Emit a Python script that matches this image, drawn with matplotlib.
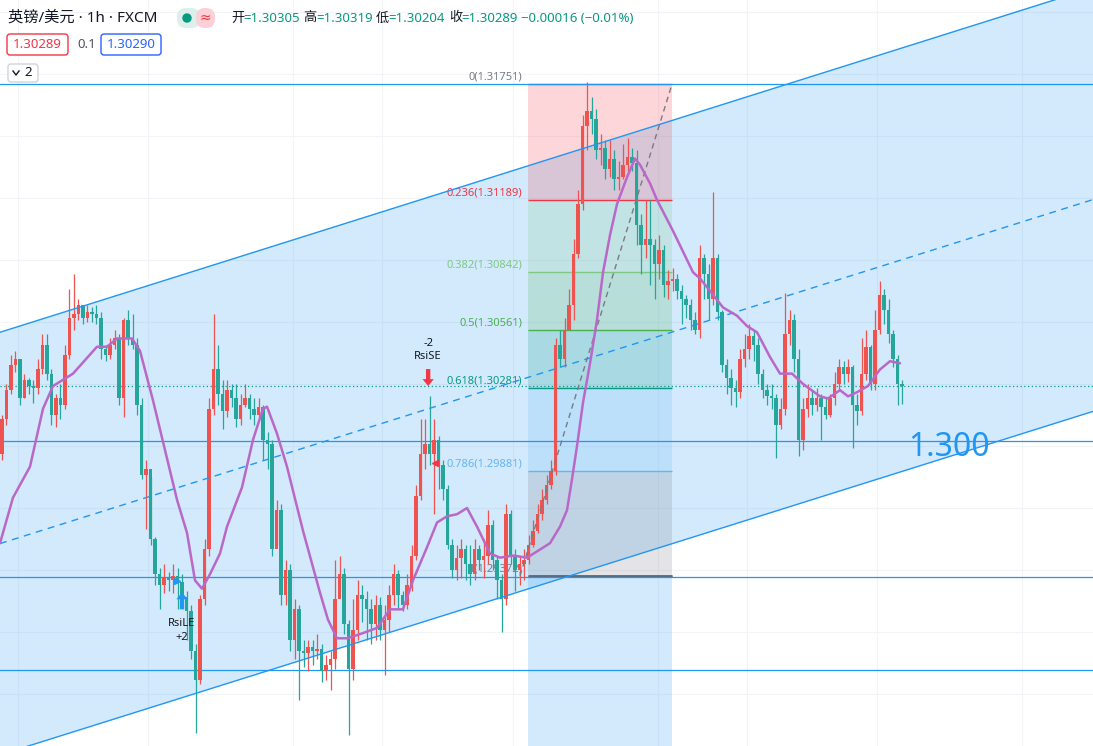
import numpy as np
import matplotlib
matplotlib.use('Agg')
import matplotlib.pyplot as plt
from matplotlib.patches import Rectangle, FancyBboxPatch, Polygon, Circle, FancyArrowPatch
from matplotlib.lines import Line2D
from matplotlib.transforms import IdentityTransform

W, H = 1093, 746
plt.rcParams['font.family'] = ['Noto Sans', 'Noto Sans CJK SC', 'DejaVu Sans']

# =====================================================================
# DATA  (GBP/USD 1h, FXCM)
# =====================================================================
first_open = 1.2996
closes = [
    1.3013, 1.3027, 1.3039, 1.3042, 1.3023, 1.3032, 1.3029, 1.3028, 1.3037, 1.3049,
    1.3035, 1.3015, 1.3023, 1.3020, 1.3044, 1.3062, 1.3064, 1.3068, 1.3062, 1.3065,
    1.3064, 1.3062, 1.3047, 1.3044, 1.3049, 1.3052, 1.3023, 1.3061, 1.3052, 1.3049,
    1.3020, 1.2986, 1.2989, 1.2955, 1.2938, 1.2933, 1.2936, 1.2935, 1.2937, 1.2934,
    1.2927, 1.2920, 1.2901, 1.2887, 1.2926, 1.2950, 1.3018, 1.3037, 1.3025, 1.3017,
    1.3027, 1.3023, 1.3013, 1.3020, 1.3023, 1.3018, 1.3015, 1.3019, 1.3003, 1.3001,
    1.2950, 1.2969, 1.2928, 1.2940, 1.2906, 1.2921, 1.2901, 1.2900, 1.2903, 1.2901,
    1.2902, 1.2891, 1.2894, 1.2897, 1.2926, 1.2938, 1.2914, 1.2892, 1.2911, 1.2928,
    1.2926, 1.2921, 1.2914, 1.2923, 1.2911, 1.2916, 1.2928, 1.2938, 1.2928, 1.2923,
    1.2933, 1.2947, 1.2976, 1.2996, 1.3001, 1.2996, 1.3003, 1.2991, 1.2979, 1.2952,
    1.2940, 1.2946, 1.2950, 1.2943, 1.2938, 1.2950, 1.2945, 1.2947, 1.2962, 1.2945,
    1.2935, 1.2926, 1.2967, 1.2947, 1.2940, 1.2943, 1.2945, 1.2952, 1.2959, 1.2967,
    1.2974, 1.2981, 1.2988, 1.3049, 1.3042, 1.3056, 1.3068, 1.3093, 1.3117, 1.3155,
    1.3162, 1.3158, 1.3143, 1.3144, 1.3134, 1.3139, 1.3129, 1.3130, 1.3136, 1.3140,
    1.3137, 1.3107, 1.3097, 1.3100, 1.3097, 1.3088, 1.3095, 1.3078, 1.3080, 1.3081,
    1.3075, 1.3071, 1.3068, 1.3061, 1.3056, 1.3091, 1.3083, 1.3071, 1.3091, 1.3065,
    1.3039, 1.3033, 1.3028, 1.3026, 1.3042, 1.3047, 1.3053, 1.3049, 1.3035, 1.3027,
    1.3024, 1.3023, 1.3010, 1.3018, 1.3054, 1.3061, 1.3042, 1.3003, 1.3018, 1.3023,
    1.3020, 1.3023, 1.3019, 1.3015, 1.3023, 1.3030, 1.3038, 1.3035, 1.3038, 1.3020,
    1.3017, 1.3035, 1.3048, 1.3030, 1.3056, 1.3073, 1.3066, 1.3054, 1.3042, 1.3030,
    1.30289,
]
highs = [
    1.3015, 1.3030, 1.3044, 1.3046, 1.3042, 1.3035, 1.3033, 1.3032, 1.3042, 1.3054,
    1.3054, 1.3037, 1.3025, 1.3030, 1.3049, 1.3076, 1.3083, 1.3071, 1.3068, 1.3068,
    1.3067, 1.3068, 1.3065, 1.3049, 1.3052, 1.3056, 1.3054, 1.3062, 1.3066, 1.3064,
    1.3052, 1.3023, 1.2993, 1.2985, 1.2956, 1.2941, 1.2943, 1.2939, 1.2943, 1.2941,
    1.2938, 1.2930, 1.2923, 1.2904, 1.2928, 1.2955, 1.3023, 1.3064, 1.3049, 1.3032,
    1.3032, 1.3030, 1.3030, 1.3025, 1.3030, 1.3025, 1.3023, 1.3023, 1.3020, 1.3007,
    1.3003, 1.2974, 1.2972, 1.2945, 1.2943, 1.2926, 1.2923, 1.2906, 1.2906, 1.2906,
    1.2909, 1.2904, 1.2899, 1.2901, 1.2945, 1.2947, 1.2941, 1.2916, 1.2926, 1.2935,
    1.2933, 1.2930, 1.2926, 1.2928, 1.2927, 1.2923, 1.2933, 1.2943, 1.2940, 1.2930,
    1.2938, 1.2952, 1.2981, 1.3013, 1.3013, 1.3024, 1.3013, 1.3005, 1.2993, 1.2981,
    1.2955, 1.2952, 1.2955, 1.2952, 1.2952, 1.2955, 1.2952, 1.2955, 1.2969, 1.2964,
    1.2947, 1.2938, 1.2972, 1.2969, 1.2950, 1.2947, 1.2950, 1.2957, 1.2964, 1.2972,
    1.2979, 1.2986, 1.2993, 1.3052, 1.3056, 1.3062, 1.3076, 1.3100, 1.3124, 1.3160,
    1.3176, 1.3169, 1.3163, 1.3151, 1.3148, 1.3148, 1.3143, 1.3138, 1.3146, 1.3149,
    1.3144, 1.3143, 1.3112, 1.3119, 1.3119, 1.3100, 1.3102, 1.3097, 1.3085, 1.3086,
    1.3083, 1.3078, 1.3073, 1.3071, 1.3065, 1.3097, 1.3093, 1.3088, 1.3123, 1.3093,
    1.3066, 1.3042, 1.3037, 1.3032, 1.3047, 1.3054, 1.3059, 1.3056, 1.3052, 1.3037,
    1.3030, 1.3030, 1.3025, 1.3023, 1.3074, 1.3066, 1.3064, 1.3047, 1.3023, 1.3030,
    1.3027, 1.3028, 1.3025, 1.3023, 1.3025, 1.3036, 1.3042, 1.3041, 1.3042, 1.3039,
    1.3025, 1.3052, 1.3056, 1.3049, 1.3066, 1.3080, 1.3076, 1.3071, 1.3056, 1.3044,
    1.30319,
]
lows = [
    1.2993, 1.3010, 1.3025, 1.3036, 1.3020, 1.3023, 1.3025, 1.3021, 1.3025, 1.3035,
    1.3032, 1.3010, 1.3009, 1.3013, 1.3018, 1.3042, 1.3056, 1.3061, 1.3059, 1.3060,
    1.3060, 1.3059, 1.3042, 1.3041, 1.3042, 1.3047, 1.3020, 1.3014, 1.3049, 1.3047,
    1.3015, 1.2984, 1.2960, 1.2952, 1.2933, 1.2921, 1.2929, 1.2930, 1.2929, 1.2921,
    1.2926, 1.2906, 1.2897, 1.2861, 1.2885, 1.2923, 1.2947, 1.3015, 1.3020, 1.3008,
    1.3014, 1.3019, 1.3009, 1.3010, 1.3019, 1.3013, 1.3010, 1.3014, 1.2993, 1.2989,
    1.2947, 1.2952, 1.2923, 1.2923, 1.2901, 1.2897, 1.2877, 1.2893, 1.2891, 1.2894,
    1.2897, 1.2886, 1.2887, 1.2882, 1.2892, 1.2930, 1.2909, 1.2860, 1.2887, 1.2906,
    1.2915, 1.2906, 1.2904, 1.2906, 1.2906, 1.2889, 1.2910, 1.2923, 1.2921, 1.2920,
    1.2921, 1.2930, 1.2945, 1.2974, 1.2989, 1.2991, 1.2967, 1.2979, 1.2974, 1.2950,
    1.2936, 1.2935, 1.2936, 1.2935, 1.2933, 1.2935, 1.2940, 1.2936, 1.2943, 1.2940,
    1.2926, 1.2910, 1.2923, 1.2943, 1.2930, 1.2933, 1.2935, 1.2943, 1.2951, 1.2958,
    1.2964, 1.2972, 1.2979, 1.2986, 1.3038, 1.3038, 1.3056, 1.3061, 1.3091, 1.3114,
    1.3143, 1.3151, 1.3139, 1.3136, 1.3129, 1.3130, 1.3124, 1.3124, 1.3129, 1.3133,
    1.3133, 1.3097, 1.3083, 1.3091, 1.3078, 1.3071, 1.3081, 1.3072, 1.3071, 1.3075,
    1.3071, 1.3059, 1.3062, 1.3056, 1.3054, 1.3052, 1.3071, 1.3061, 1.3068, 1.3061,
    1.3036, 1.3025, 1.3020, 1.3019, 1.3023, 1.3038, 1.3042, 1.3041, 1.3030, 1.3023,
    1.3020, 1.3018, 1.2994, 1.3008, 1.3015, 1.3049, 1.3036, 1.2995, 1.2998, 1.3014,
    1.3015, 1.3017, 1.3003, 1.3013, 1.3014, 1.3020, 1.3027, 1.3030, 1.3031, 1.2999,
    1.3010, 1.3015, 1.3032, 1.3027, 1.3027, 1.3054, 1.3059, 1.3050, 1.3038, 1.3020,
    1.30204,
]

# moving average (purple), sampled at bar positions
ma_idx = [-0.44, 2.44, 6.22, 9.11, 11.33, 15.78, 21.11, 23.33, 25.56, 28.89,
          30.67, 33.56, 35.78, 38.89, 41.11, 42.89, 44.44, 46.22, 48.44, 50.0,
          53.33, 55.78, 58.0, 58.89, 61.11, 63.33, 66.89, 70.67, 72.44, 74.44,
          76.67, 79.56, 83.33, 86.22, 89.11, 91.33, 94.44, 96.67, 98.89, 101.11,
          103.33, 105.56, 108.44, 110.67, 113.56, 116.67, 118.89, 121.78, 124.0, 125.56,
          126.67, 127.78, 129.11, 130.67, 132.22, 133.56, 135.11, 136.67, 138.89, 140.67,
          141.78, 144.0, 145.56, 149.11, 153.56, 155.11, 157.33, 160.22, 163.33, 165.56,
          167.78, 170.67, 172.89, 175.56, 178.0, 181.78, 183.56, 186.22, 188.0, 190.0,
          192.44, 195.11, 197.33, 199.56]
ma_val = [1.2953, 1.2975, 1.2990, 1.3018, 1.3029, 1.3035, 1.3048, 1.3048, 1.3052, 1.3052,
          1.3046, 1.3022, 1.3002, 1.2974, 1.2958, 1.2935, 1.2931, 1.2938, 1.2948, 1.2961,
          1.2980, 1.3003, 1.3018, 1.3019, 1.3006, 1.2990, 1.2959, 1.2929, 1.2916, 1.2907,
          1.2907, 1.2909, 1.2912, 1.2921, 1.2921, 1.2935, 1.2951, 1.2963, 1.2966, 1.2967,
          1.2970, 1.2961, 1.2948, 1.2946, 1.2947, 1.2946, 1.2949, 1.2953, 1.2961, 1.2969,
          1.2984, 1.3000, 1.3021, 1.3040, 1.3061, 1.3084, 1.3102, 1.3117, 1.3130, 1.3139,
          1.3136, 1.3127, 1.3119, 1.3104, 1.3084, 1.3081, 1.3075, 1.3067, 1.3063, 1.3058,
          1.3055, 1.3043, 1.3035, 1.3035, 1.3030, 1.3024, 1.3023, 1.3027, 1.3024, 1.3026,
          1.3029, 1.3037, 1.3041, 1.3040]

# parallel channel anchors (bar index, price)
chan_x = [0, 200]
chan_top = [1.30553, 1.31925]
chan_bot = [1.28509, 1.29877]

# fibonacci retracement
fib_labels = ['0', '0.236', '0.382', '0.5', '0.618', '0.786', '1']
fib_prices = [1.31751, 1.31189, 1.30842, 1.30561, 1.30281, 1.29881, 1.29372]
fib_colors = ['#787b86', '#f23645', '#81c784', '#4caf50', '#089981', '#64b5f6', '#787b86']
fib_x0, fib_x1 = 116.9, 148.9
fib_trend_x = [115.1, 148.9]
fib_trend_y = [1.29372, 1.31751]

hlines = [1.31751, 1.30024, 1.29367, 1.28917]
last_price = 1.30289

grid_prices = [1.2850, 1.2880, 1.2910, 1.2940, 1.2970, 1.3000, 1.3030,
               1.3060, 1.3090, 1.3120, 1.3150, 1.3180, 1.3210]
time_grid = [3.6, 32.4, 64.7, 84.4, 113.6, 145.8, 165.6, 194.4, 226.7]

XLIM = (-0.444, 242.44)
YLIM = (1.28549, 1.32157)

RED = '#ef5350'
TEAL = '#26a69a'
BLUE = '#2196f3'
DARK = '#131722'

# =====================================================================
# PLOT
# =====================================================================
fig = plt.figure(figsize=(W / 100, H / 100), dpi=100)
ax = fig.add_axes([0, 0, 1, 1])
ax.set_xlim(*XLIM)
ax.set_ylim(*YLIM)
ax.axis('off')

for p in grid_prices:
    ax.axhline(p, color='#f2f4f8', lw=0.8, zorder=0.5)
for t in time_grid:
    ax.axvline(t, color='#f2f4f8', lw=0.8, zorder=0.5)

# channel
slope_t = (chan_top[1] - chan_top[0]) / (chan_x[1] - chan_x[0])
slope_b = (chan_bot[1] - chan_bot[0]) / (chan_x[1] - chan_x[0])
xe = np.array(XLIM)
top_e = chan_top[0] + slope_t * (xe - chan_x[0])
bot_e = chan_bot[0] + slope_b * (xe - chan_x[0])
ax.add_patch(Polygon([(xe[0], bot_e[0]), (xe[1], bot_e[1]), (xe[1], top_e[1]), (xe[0], top_e[0])],
                     closed=True, facecolor=BLUE, alpha=0.2, lw=0, zorder=1))
ax.plot(xe, top_e, color=BLUE, lw=1, zorder=3.5)
ax.plot(xe, bot_e, color=BLUE, lw=1, zorder=3.5)
ax.plot(xe, (top_e + bot_e) / 2, color=BLUE, lw=1, ls=(0, (5, 4)), zorder=3.5)

# fib zones
for k in range(1, len(fib_prices)):
    ax.add_patch(Rectangle((fib_x0, fib_prices[k]), fib_x1 - fib_x0, fib_prices[k - 1] - fib_prices[k],
                           facecolor=fib_colors[k], alpha=0.2, lw=0, zorder=1.2))
ax.add_patch(Rectangle((fib_x0, YLIM[0]), fib_x1 - fib_x0, fib_prices[-1] - YLIM[0],
                       facecolor=BLUE, alpha=0.2, lw=0, zorder=1.2))
ax.hlines(fib_prices, fib_x0, fib_x1, colors=fib_colors, lw=1, zorder=2)
ax.hlines(fib_prices[-1], fib_x0, fib_x1, colors='#5d6677', lw=2, zorder=2)
for lab, p, c in zip(fib_labels, fib_prices, fib_colors):
    ax.annotate(f'{lab}({p:.5f})', xy=(fib_x0, p), xytext=(-4, 1), textcoords='offset points',
                ha='right', va='bottom', fontsize=8, color=c, zorder=2.5)
ax.plot(fib_trend_x, fib_trend_y, color='#787b86', lw=1, ls=(0, (4, 3)), zorder=3.6)

# horizontal lines
for p in hlines:
    ax.axhline(p, color=BLUE, lw=0.9, zorder=2.2)
ax.axhline(last_price, color='#089981', lw=0.9, ls=(0, (1, 2)), zorder=2.2)

# candles
c = np.array(closes)
o = np.array([first_open] + closes[:-1])
hi = np.array(highs)
lo = np.array(lows)
idx = np.arange(len(c))
col = np.where(c >= o, RED, TEAL)
ax.vlines(idx, lo, hi, colors=col, lw=0.9, zorder=3)
ax.bar(idx, np.maximum(np.abs(c - o), 0.00004), bottom=np.minimum(o, c), width=0.72,
       color=col, lw=0, zorder=3.2)

# moving average
ax.plot(ma_idx, ma_val, color='#ba68c8', lw=1.8, zorder=4, solid_capstyle='round')

# signals
arrow_style = 'simple,head_width=0.9,head_length=0.55,tail_width=0.35'
ax.text(94.7, 1.30498, '-2', ha='center', va='center', fontsize=8, color=DARK, zorder=5)
ax.text(94.7, 1.30431, 'RsiSE', ha='center', va='center', fontsize=8, color=DARK, zorder=5)
ax.add_patch(FancyArrowPatch((94.7, 1.30372), (94.7, 1.30290), arrowstyle=arrow_style,
                             mutation_scale=9, shrinkA=0, shrinkB=0,
                             color='#f23645', lw=0, zorder=5))
ax.text(40.0, 1.29143, 'RsiLE', ha='center', va='center', fontsize=8, color=DARK, zorder=5)
ax.text(40.0, 1.29075, '+2', ha='center', va='center', fontsize=8, color=DARK, zorder=5)
ax.add_patch(FancyArrowPatch((40.0, 1.29210), (40.0, 1.29292), arrowstyle=arrow_style,
                             mutation_scale=9, shrinkA=0, shrinkB=0,
                             color=BLUE, lw=0, zorder=5))
ax.plot(38.9, 1.29347, marker='>', color=BLUE, ms=5, zorder=5)
ax.plot(96.2, 1.29918, marker='<', color='#f23645', ms=5, zorder=5)

ax.text(201.3, 1.29995, '1.300', fontsize=23, color=BLUE, ha='left', va='center', zorder=5)

# =====================================================================
# HEADER (pixel coords, top-left origin)
# =====================================================================
PX = IdentityTransform()


def ptext(x, y, s, **kw):
    fig.text(x, H - y, s, transform=PX, va='center', **kw)


def pbox(x0, y0, x1, y1, **kw):
    fig.patches.append(FancyBboxPatch((x0, H - y1), x1 - x0, y1 - y0, transform=PX, **kw))


ptext(8, 18, '英镑/美元 · 1h · FXCM', fontsize=11, color=DARK)
pbox(177, 8, 200, 28, boxstyle='round,pad=0,rounding_size=9', facecolor='#dcefeb', lw=0)
pbox(196, 8, 215, 28, boxstyle='round,pad=0,rounding_size=9', facecolor='#fbd0d6', lw=0)
fig.patches.append(Circle((187, H - 18), 4, transform=PX, color='#089981'))
ptext(205, 18, '≈', fontsize=10, color='#f23645', ha='center', family=['DejaVu Sans'])

for x, s, colr in [(231, '开', DARK), (243, '=1.30305', '#089981'),
                   (303, '高', DARK), (316, '=1.30319', '#089981'),
                   (376, '低', DARK), (388, '=1.30204', '#089981'),
                   (449, '收', DARK), (461, '=1.30289', '#089981'),
                   (521, '−0.00016 (−0.01%)', '#089981')]:
    ptext(x, 18, s, fontsize=9.5, color=colr)

pbox(7, 34, 68, 55, boxstyle='round,pad=0,rounding_size=3', facecolor='white', edgecolor='#f23645', lw=1)
ptext(37.5, 44.5, '1.30289', fontsize=9.5, color='#f23645', ha='center')
ptext(77, 44.5, '0.1', fontsize=9.5, color='#50535e')
pbox(101, 34, 161, 55, boxstyle='round,pad=0,rounding_size=3', facecolor='white', edgecolor='#2962ff', lw=1)
ptext(131, 44.5, '1.30290', fontsize=9.5, color='#2962ff', ha='center')

pbox(8, 64, 38, 82, boxstyle='round,pad=0,rounding_size=3', facecolor='white', edgecolor='#d1d4dc', lw=1)
fig.lines.append(Line2D([13, 16, 19], [H - 71, H - 75, H - 71], transform=PX, color=DARK, lw=1))
ptext(24, 73, '2', fontsize=9.5, color=DARK)

fig.savefig('out.png', dpi=100)
